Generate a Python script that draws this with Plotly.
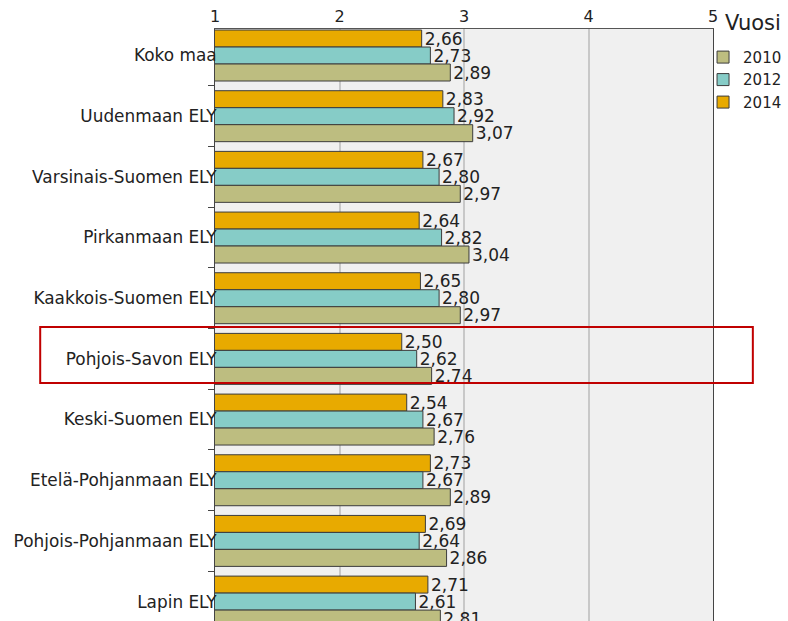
import plotly.graph_objects as go

regions = ["Koko maa", "Uudenmaan ELY", "Varsinais-Suomen ELY", "Pirkanmaan ELY",
           "Kaakkois-Suomen ELY", "Pohjois-Savon ELY", "Keski-Suomen ELY",
           "Etelä-Pohjanmaan ELY", "Pohjois-Pohjanmaan ELY", "Lapin ELY"]
v2010 = [2.89, 3.07, 2.97, 3.04, 2.97, 2.74, 2.76, 2.89, 2.86, 2.81]
v2012 = [2.73, 2.92, 2.80, 2.82, 2.80, 2.62, 2.67, 2.67, 2.64, 2.61]
v2014 = [2.66, 2.83, 2.67, 2.64, 2.65, 2.50, 2.54, 2.73, 2.69, 2.71]
x_ticks = [1, 2, 3, 4, 5]
highlight = "Pohjois-Savon ELY"
legend_title = "Vuosi"

FONT = "DejaVu Sans"
series = [("2014", v2014, "#E8AA00"), ("2012", v2012, "#86CCC7"), ("2010", v2010, "#BDBD80")]

fig = go.Figure()
for name, vals, col in series:
    fig.add_trace(go.Bar(
        y=regions, x=vals, name=name, orientation="h",
        marker=dict(color=col, line=dict(color="#3c3c3c", width=1)),
        texttemplate="%{x:.2f}", textposition="outside", cliponaxis=False,
        constraintext="none",
        textfont=dict(family=FONT, size=17, color="#222222"),
    ))

hi = regions.index(highlight)
fig.add_shape(type="rect", xref="paper", yref="y",
              x0=-0.351, x1=1.080, y0=hi - 0.525, y1=hi + 0.398,
              line=dict(color="#C00000", width=2), fillcolor="rgba(0,0,0,0)", layer="above")

fig.add_annotation(text=legend_title, xref="paper", yref="paper", x=1.02, y=1.034,
                   xanchor="left", yanchor="top", showarrow=False,
                   font=dict(family=FONT, size=21, color="#222222"))

fig.update_layout(
    width=788, height=621,
    margin=dict(l=215, r=75, t=29, b=0, autoexpand=False),
    paper_bgcolor="white", plot_bgcolor="#F0F0F0",
    barmode="group", bargap=0.16, bargroupgap=0,
    separators=", ",
    font=dict(family=FONT, size=16, color="#222222"),
    legend=dict(x=0.98, y=0.98, xanchor="left", yanchor="top",
                traceorder="reversed",
                font=dict(size=15, family=FONT), itemwidth=30,
                tracegroupgap=0, bgcolor="rgba(0,0,0,0)"),
    xaxis=dict(side="top", range=[1, 5], tickvals=x_ticks,
               ticktext=[str(t) for t in x_ticks],
               showgrid=True, gridcolor="#C8C8C8", gridwidth=2,
               showline=True, linecolor="#555555", linewidth=1,
               ticks="", zeroline=False, tickfont=dict(size=16)),
    yaxis=dict(type="category", range=[9.32, -0.437],
               showline=True, linecolor="#444444", linewidth=1, mirror=True,
               ticks="outside", tickson="boundaries", ticklen=6, tickcolor="#444444",
               showgrid=False, ticklabelstandoff=-6, tickfont=dict(size=16.9)),
)

fig.write_html("out.html")
